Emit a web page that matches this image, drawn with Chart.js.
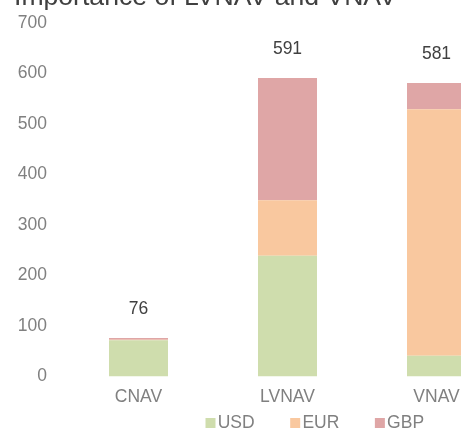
<!DOCTYPE html>
<html>
<head>
<meta charset="utf-8">
<script src="https://cdn.jsdelivr.net/npm/chart.js@4/dist/chart.umd.min.js"></script>
<style>
  html, body { margin: 0; padding: 0; background: #ffffff; overflow: hidden; width: 461px; height: 430px; }
  #wrap { position: absolute; left: 0; top: -20px; width: 588px; height: 462px; }
</style>
</head>
<body>
<div id="wrap"><canvas id="c" width="588" height="462"></canvas></div>
<script>
const categories = ['CNAV', 'LVNAV', 'VNAV'];
const usdValues = [72, 239, 41];
const eurValues = [1, 110, 488];
const gbpValues = [3, 242, 52];
const yTicks = [0, 100, 200, 300, 400, 500, 600, 700];
const seriesNames = ['USD', 'EUR', 'GBP'];
const seriesColors = ['#cfddad', '#f9c89f', '#dfa6a6'];
const titleText = 'Importance of LVNAV and VNAV';

const FONT = "'Liberation Sans', Arial, Helvetica, sans-serif";

// legend swatch images: square placed close to the label text
function makeSwatch(color) {
  const cv = document.createElement('canvas');
  cv.width = 52; cv.height = 10;
  const g = cv.getContext('2d');
  g.fillStyle = color;
  g.fillRect(38, 0, 10, 10);
  return cv;
}
const swatches = seriesColors.map(makeSwatch);

const totalsPlugin = {
  id: 'totals',
  afterDatasetsDraw(chart) {
    const ctx = chart.ctx;
    const xs = chart.scales.x, ys = chart.scales.y;
    ctx.save();
    ctx.font = '17.5px ' + FONT;
    ctx.fillStyle = '#404040';
    ctx.textAlign = 'center';
    ctx.textBaseline = 'middle';
    categories.forEach((c, i) => {
      const total = usdValues[i] + eurValues[i] + gbpValues[i];
      ctx.fillText(String(total), xs.getPixelForValue(i), ys.getPixelForValue(total) - 29);
    });
    ctx.restore();
  }
};

new Chart(document.getElementById('c'), {
  type: 'bar',
  data: {
    labels: categories,
    datasets: [
      { label: seriesNames[0], data: usdValues, backgroundColor: seriesColors[0] },
      { label: seriesNames[1], data: eurValues, backgroundColor: seriesColors[1] },
      { label: seriesNames[2], data: gbpValues, backgroundColor: seriesColors[2] }
    ]
  },
  options: {
    responsive: false,
    animation: false,
    devicePixelRatio: 1,
    layout: { padding: { left: 14, right: 0, top: 0, bottom: 0 } },
    datasets: { bar: { categoryPercentage: 1, barPercentage: 0.396, borderWidth: 0 } },
    scales: {
      x: {
        stacked: true,
        grid: { display: false, drawTicks: false },
        border: { display: false },
        ticks: { color: '#808080', font: { family: FONT, size: 17.5 }, padding: 10 },
        afterFit(s) { s.height = 30; }
      },
      y: {
        stacked: true,
        min: 0, max: 700,
        afterBuildTicks(s) { s.ticks = yTicks.map(v => ({ value: v })); },
        grid: { display: false, drawTicks: false },
        border: { display: false },
        ticks: { color: '#808080', font: { family: FONT, size: 17.5 }, padding: 17 },
        afterFit(s) { s.width = 50; }
      },
      yr: {
        position: 'right',
        display: true,
        grid: { display: false, drawTicks: false },
        border: { display: false },
        ticks: { display: false },
        afterFit(s) { s.width = 77; }
      }
    },
    plugins: {
      title: {
        display: true,
        text: titleText,
        align: 'start',
        color: '#404040',
        font: { family: FONT, size: 26.6, weight: 'normal' },
        padding: { top: 2, bottom: 9 }
      },
      legend: {
        position: 'bottom',
        labels: {
          usePointStyle: true,
          pointStyleWidth: 31,
          color: '#808080',
          font: { family: FONT, size: 17.5 },
          padding: 8,
          generateLabels(chart) {
            const items = Chart.defaults.plugins.legend.labels.generateLabels(chart);
            items.forEach((it, i) => { it.pointStyle = swatches[i]; });
            return items;
          }
        }
      },
      tooltip: { enabled: false }
    }
  },
  plugins: [totalsPlugin]
});
</script>
</body>
</html>
